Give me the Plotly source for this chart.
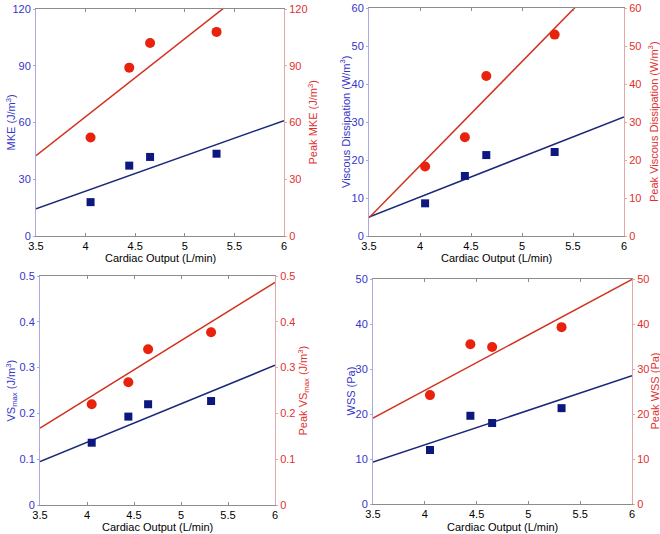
import plotly.graph_objects as go

# ---- data ----
cardiac_output = [4.05, 4.44, 4.65, 5.32]
fit_x = [3.5, 6.0]

mke = [17.9, 37.2, 41.8, 43.5]
peak_mke = [52.1, 89.0, 102.0, 107.9]
fit_mke = [14.4, 61.0]
fit_peak_mke = [42.5, 145.5]

vd = [8.6, 15.8, 21.3, 22.1]
peak_vd = [18.3, 26.0, 42.1, 53.0]
fit_vd = [5.0, 31.35]
fit_peak_vd = [4.8, 73.3]

vs = [0.136, 0.193, 0.220, 0.227]
peak_vs = [0.220, 0.268, 0.340, 0.377]
fit_vs = [0.095, 0.305]
fit_peak_vs = [0.168, 0.486]

wss = [12.0, 19.6, 18.0, 21.3]
peak_wss = [24.2, 35.5, 34.9, 39.3]
fit_wss = [9.3, 28.5]
fit_peak_wss = [19.1, 49.9]

x_ticks = [3.5, 4, 4.5, 5, 5.5, 6]
x_tick_text = ["3.5", "4", "4.5", "5", "5.5", "6"]
x_title = "Cardiac Output (L/min)"

panels = [
    dict(left=mke, right=peak_mke, fl=fit_mke, fr=fit_peak_mke, yrange=[0, 120], dtick=30,
         ltitle="MKE (J/m<sup>3</sup>)", rtitle="Peak MKE (J/m<sup>3</sup>)",
         px=(36, 284), py=(9, 236), xt=258, lt=10, rt=312),
    dict(left=vd, right=peak_vd, fl=fit_vd, fr=fit_peak_vd, yrange=[0, 60], dtick=10,
         ltitle="Viscous Dissipation (W/m<sup>3</sup>)", rtitle="Peak Viscous Dissipation (W/m<sup>3</sup>)",
         px=(369, 624), py=(8, 236), xt=258, lt=345, rt=653),
    dict(left=vs, right=peak_vs, fl=fit_vs, fr=fit_peak_vs, yrange=[0, 0.5], dtick=0.1,
         ltitle="VS<sub>max</sub> (J/m<sup>3</sup>)", rtitle="Peak VS<sub>max</sub> (J/m<sup>3</sup>)",
         px=(40, 275), py=(276, 505), xt=527, lt=11, rt=303),
    dict(left=wss, right=peak_wss, fl=fit_wss, fr=fit_peak_wss, yrange=[0, 50], dtick=10,
         ltitle="WSS (Pa)", rtitle="Peak WSS (Pa)",
         px=(373, 632), py=(279, 504), xt=527, lt=350, rt=654),
]

W, H = 660, 534
BLUE_TXT = "#3535c8"
RED_TXT = "#e03030"
NAVY = "#0c1880"
NAVY_LINE = "#1a2878"
RED_MK = "#e8220c"
RED_LINE = "#d2301e"
FONT = "Liberation Sans, Arial, sans-serif"

fig = go.Figure()
layout = dict(width=W, height=H, margin=dict(l=0, r=0, t=0, b=0, autoexpand=False),
              paper_bgcolor="white", plot_bgcolor="white", showlegend=False,
              font=dict(family=FONT, size=11, color="black"))
annotations = []

for i, p in enumerate(panels):
    k = i + 1
    xa = "x" if k == 1 else f"x{k}"
    yl_n = 2 * i + 1
    yr_n = 2 * i + 2
    yl = "y" if yl_n == 1 else f"y{yl_n}"
    yr = f"y{yr_n}"
    xdom = [p["px"][0] / W, p["px"][1] / W]
    ydom = [1 - p["py"][1] / H, 1 - p["py"][0] / H]

    fig.add_trace(go.Scatter(x=fit_x, y=p["fl"], mode="lines", line=dict(color=NAVY_LINE, width=1.5),
                             xaxis=xa, yaxis=yl, hoverinfo="skip"))
    fig.add_trace(go.Scatter(x=cardiac_output, y=p["left"], mode="markers",
                             marker=dict(symbol="square", size=8, color=NAVY), xaxis=xa, yaxis=yl,
                             cliponaxis=False))
    fig.add_trace(go.Scatter(x=fit_x, y=p["fr"], mode="lines", line=dict(color=RED_LINE, width=1.5),
                             xaxis=xa, yaxis=yr, hoverinfo="skip"))
    fig.add_trace(go.Scatter(x=cardiac_output, y=p["right"], mode="markers",
                             marker=dict(symbol="circle", size=10, color=RED_MK), xaxis=xa, yaxis=yr,
                             cliponaxis=False))

    xkey = "xaxis" if k == 1 else f"xaxis{k}"
    ylkey = "yaxis" if yl_n == 1 else f"yaxis{yl_n}"
    yrkey = f"yaxis{yr_n}"
    layout[xkey] = dict(domain=xdom, anchor=yl, range=[3.5, 6], tickvals=x_ticks, ticktext=x_tick_text,
                        automargin=False,
                        showgrid=False, zeroline=False, showline=True, linecolor="#8c8c8c", linewidth=1,
                        mirror="ticks", ticks="inside", ticklen=3, tickcolor="#8c8c8c",
                        tickfont=dict(size=11, color="black"))
    layout[ylkey] = dict(domain=ydom, anchor=xa, range=p["yrange"], dtick=p["dtick"], tick0=0,
                         automargin=False,
                         showgrid=False, zeroline=False, showline=True, linecolor="#a8a8e2", linewidth=1,
                         ticks="outside", ticklen=2, tickcolor="#a8a8e2",
                         tickfont=dict(size=11, color=BLUE_TXT))
    layout[yrkey] = dict(domain=ydom, anchor=xa, overlaying=yl, side="right", range=p["yrange"],
                         dtick=p["dtick"], tick0=0, automargin=False,
                         showgrid=False, zeroline=False, showline=True, linecolor="#e2a8a8", linewidth=1,
                         ticks="outside", ticklen=2, tickcolor="#e2a8a8",
                         tickfont=dict(size=11, color=RED_TXT))

    cx = (p["px"][0] + p["px"][1]) / 2 / W
    cy = 1 - (p["py"][0] + p["py"][1]) / 2 / H
    annotations.append(dict(text=x_title, x=cx, y=1 - p["xt"] / H, xref="paper", yref="paper",
                            xanchor="center", yanchor="middle", showarrow=False,
                            font=dict(size=11, color="black")))
    annotations.append(dict(text=p["ltitle"], x=p["lt"] / W, y=cy, xref="paper", yref="paper",
                            xanchor="center", yanchor="middle", showarrow=False, textangle=-90,
                            font=dict(size=11, color=BLUE_TXT)))
    annotations.append(dict(text=p["rtitle"], x=p["rt"] / W, y=cy, xref="paper", yref="paper",
                            xanchor="center", yanchor="middle", showarrow=False, textangle=-90,
                            font=dict(size=11, color=RED_TXT)))

layout["annotations"] = annotations
fig.update_layout(**layout)
fig.write_html("out.html", config={"displayModeBar": False},
               post_script="document.body.style.margin='0';document.body.style.overflow='hidden';")
